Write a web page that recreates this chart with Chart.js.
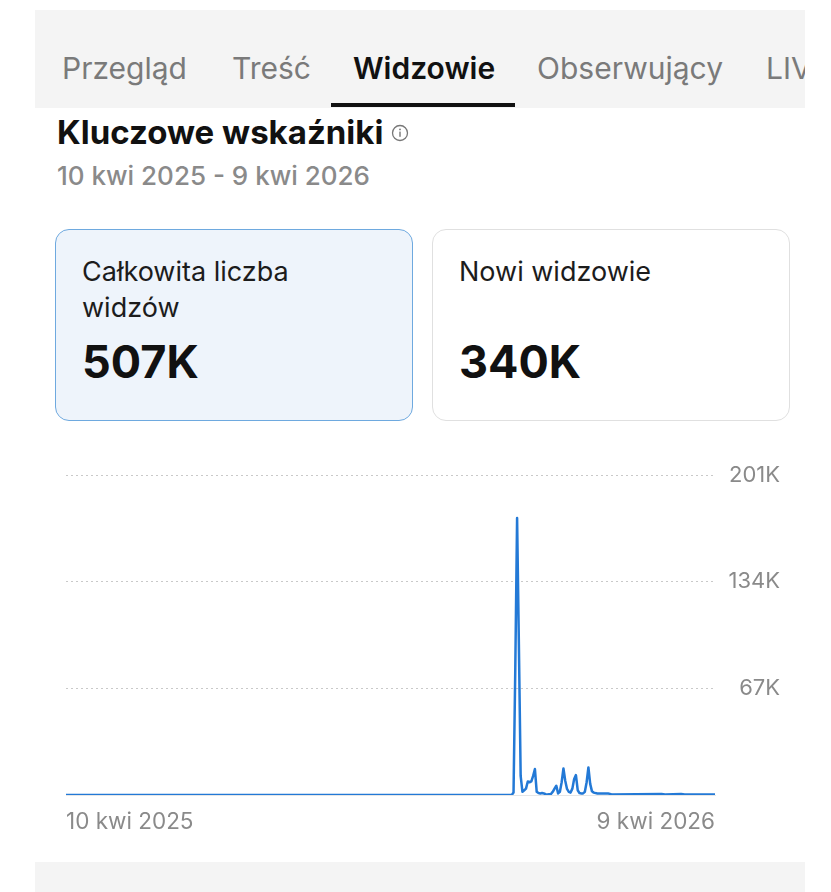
<!DOCTYPE html>
<html>
<head>
<meta charset="utf-8">
<script src="https://cdn.jsdelivr.net/npm/chart.js@4.4.1/dist/chart.umd.min.js"></script>
<style>
  html, body { margin: 0; padding: 0; background: #fff; }
  body { width: 831px; height: 892px; position: relative; overflow: hidden; font-family: Inter, "Noto Sans", sans-serif; }
  .abs { position: absolute; white-space: nowrap; line-height: 1; }
  .tabbar { position: absolute; left: 35px; top: 10px; width: 770px; height: 98px; background: #f4f4f4; overflow: hidden; }
  .tab { position: absolute; top: 43px; font-size: 30px; color: #7a7a7a; line-height: 1; white-space: nowrap; }
  .tab.active { color: #111; font-weight: 600; }
  .underline { position: absolute; left: 296px; top: 93px; width: 184px; height: 4px; background: #111; }
  .card { position: absolute; top: 229px; width: 358px; height: 192px; border-radius: 14px; box-sizing: border-box; }
  .card .lbl { position: absolute; left: 26px; top: 24px; font-size: 27px; line-height: 36px; color: #1c1c1c; }
  .card .val { position: absolute; left: 26px; top: 109px; font-size: 45px; font-weight: 700; color: #111; line-height: 1; }
  .bottom { position: absolute; left: 35px; top: 862px; width: 770px; height: 30px; background: #f4f4f4; }
  #wrap { position: absolute; left: 50px; top: 455px; width: 730px; height: 392px; }
</style>
</head>
<body>
<div class="tabbar">
  <span class="tab" style="left:27px">Przegląd</span>
  <span class="tab" style="left:197px">Treść</span>
  <span class="tab active" style="left:318px">Widzowie</span>
  <span class="tab" style="left:502px">Obserwujący</span>
  <span class="tab" style="left:731px">LIVE</span>
  <div class="underline"></div>
</div>

<div class="abs" style="left:57px; top:116px; font-size:33px; font-weight:700; color:#111;">Kluczowe wskaźniki</div>
<svg class="abs" style="left:391px; top:124px" width="18" height="18" viewBox="0 0 18 18">
  <circle cx="9" cy="9" r="7.5" fill="none" stroke="#777" stroke-width="1.3"/>
  <rect x="8.3" y="7.6" width="1.4" height="5.2" fill="#777"/>
  <circle cx="9" cy="5.4" r="0.9" fill="#777"/>
</svg>
<div class="abs" style="left:57px; top:163px; font-size:26px; font-weight:500; color:#8a8a8a;">10 kwi 2025 - 9 kwi 2026</div>

<div class="card" style="left:55px; background:#eef4fb; border:1.5px solid #6ea9df;">
  <div class="lbl">Całkowita liczba<br>widzów</div>
  <div class="val">507K</div>
</div>
<div class="card" style="left:432px; background:#fff; border:1.5px solid #e0e0e0;">
  <div class="lbl">Nowi widzowie</div>
  <div class="val">340K</div>
</div>

<div id="wrap"><canvas id="viewersChart"></canvas></div>
<div class="bottom"></div>

<script>
// day offsets from 10 kwi 2025 (0) to 9 kwi 2026 (364), only the days where the curve turns
const days = [0, 250, 251, 252, 253, 254, 255, 256, 257, 258, 259, 260, 261, 262, 263, 264, 265, 266, 267, 268,
  269, 270, 271, 272, 273, 274, 275, 276, 277, 278, 279, 280, 281, 282, 283, 284, 285, 286, 287, 288,
  289, 290, 291, 292, 293, 294, 295, 296, 297, 298, 304, 306, 334, 336, 345, 347, 364];
// daily viewers
const viewers = [0, 0, 1500, 80000, 174000, 95000, 12000, 2000, 3000, 4000, 8500, 8000, 8500, 12000, 16300, 2000, 1200, 1000, 1200, 1000,
  500, 300, 500, 600, 2000, 4000, 5800, 1000, 2000, 8000, 16700, 9000, 3800, 2000, 1500, 4000, 10000, 12500, 3000, 1200,
  1000, 1000, 2000, 8000, 17300, 7000, 2300, 1500, 1200, 1000, 1000, 300, 600, 300, 600, 300, 300];

const yTicks = [0, 67000, 134000, 201000];
const yTickLabels = ["", "67K", "134K", "201K"];
const xTicks = [0, 364];
const xTickLabels = ["10 kwi 2025", "9 kwi 2026"];

const points = days.map((d, i) => ({ x: d, y: viewers[i] }));

new Chart(document.getElementById("viewersChart"), {
  type: "line",
  data: {
    datasets: [{
      data: points,
      borderColor: "#2379d6",
      borderWidth: 2.5,
      pointRadius: 0,
      tension: 0,
      fill: false,
      borderJoinStyle: "round",
    }]
  },
  options: {
    animation: false,
    responsive: true,
    maintainAspectRatio: false,
    layout: { padding: { left: 16, top: 20, right: 0, bottom: 0 } },
    plugins: { legend: { display: false }, tooltip: { enabled: false } },
    scales: {
      x: {
        type: "linear",
        min: 0,
        max: 364,
        afterBuildTicks: (scale) => { scale.ticks = xTicks.map(v => ({ value: v })); },
        afterFit: (scale) => { scale.height = 52; },
        grid: { display: false },
        border: { display: true, color: "#e6e6e6", width: 1 },
        ticks: {
          align: "inner",
          maxRotation: 0,
          padding: 6,
          color: "#8a8a8a",
          font: { family: "Inter", size: 22.5 },
          callback: (v) => xTickLabels[xTicks.indexOf(v)],
        }
      },
      y: {
        position: "right",
        min: 0,
        max: 201000,
        afterBuildTicks: (scale) => { scale.ticks = yTicks.map(v => ({ value: v })); },
        afterFit: (scale) => { scale.width = 65; },
        grid: {
          drawTicks: false,
          color: (ctx) => ctx.tick && ctx.tick.value === 0 ? "rgba(0,0,0,0)" : "#c9c9c9",
          lineWidth: 1,
        },
        border: { display: false, dash: [2, 3] },
        ticks: {
          crossAlign: "far",
          padding: 0,
          color: "#8a8a8a",
          font: { family: "Inter", size: 22 },
          callback: (v) => yTickLabels[yTicks.indexOf(v)],
        }
      }
    }
  }
});
</script>
</body>
</html>
